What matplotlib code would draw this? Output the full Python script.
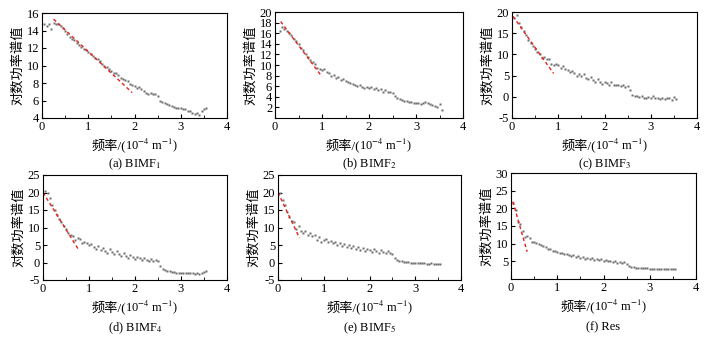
import matplotlib
matplotlib.use("Agg")
import matplotlib.pyplot as plt
import numpy as np
from matplotlib.ticker import MultipleLocator
from matplotlib.offsetbox import TextArea, HPacker, AnnotationBbox

plt.rcParams['font.family'] = ['Liberation Serif', 'Noto Sans CJK SC']
plt.rcParams['mathtext.fontset'] = 'stix'
plt.rcParams['axes.unicode_minus'] = False

# frequency grid (10^-4 m^-1)
freq = [0.05, 0.10, 0.15, 0.20, 0.25, 0.30, 0.35, 0.40, 0.45, 0.50,
        0.55, 0.60, 0.65, 0.70, 0.75, 0.80, 0.85, 0.90, 0.95, 1.00,
        1.05, 1.10, 1.15, 1.20, 1.25, 1.30, 1.35, 1.40, 1.45, 1.50,
        1.55, 1.60, 1.65, 1.70, 1.75, 1.80, 1.85, 1.90, 1.95, 2.00,
        2.05, 2.10, 2.15, 2.20, 2.25, 2.30, 2.35, 2.40, 2.45, 2.50,
        2.55, 2.60, 2.65, 2.70, 2.75, 2.80, 2.85, 2.90, 2.95, 3.00,
        3.05, 3.10, 3.15, 3.20, 3.25, 3.30, 3.35, 3.40, 3.45, 3.50, 3.55]

bimf1 = [14.8, 14.5, 14.7, 14.2, 14.9, 14.8, 14.7, 14.5, 14.3, 14.0,
         13.6, 13.3, 13.0, 12.9, 12.6, 12.3, 12.1, 11.9, 11.8, 11.5,
         11.3, 11.1, 10.9, 10.7, 10.5, 10.2, 10.0, 9.8, 9.6, 9.4,
         9.2, 9.1, 8.9, 8.6, 8.5, 8.4, 8.2, 7.9, 7.8, 7.7,
         7.4, 7.5, 7.3, 7.1, 6.9, 6.8, 6.9, 6.8, 6.7, 6.5,
         6.0, 5.8, 5.7, 5.6, 5.5, 5.4, 5.3, 5.2, 5.1, 5.1,
         5.0, 5.0, 4.8, 4.8, 4.6, 4.5, 4.6, 4.3, 4.8, 5.0, 5.1]

bimf2 = [np.nan, 16.5, 17.2, 16.8, 16.5, 16.0, 15.6, 15.0, 14.5, 14.0,
         13.3, 12.8, 12.0, 11.6, 11.0, 10.6, 10.2, 9.5, 9.3, 9.0,
         9.2, 8.6, 8.5, 8.0, 8.2, 7.6, 7.8, 7.2, 7.4, 7.0,
         6.8, 6.6, 6.4, 6.3, 6.0, 6.2, 5.9, 5.7, 5.9, 5.6,
         5.8, 5.4, 5.6, 5.2, 5.4, 5.0, 5.2, 4.9, 5.0, 4.7,
         4.2, 3.8, 3.5, 3.4, 3.3, 3.2, 3.1, 3.0, 2.9, 2.8,
         2.9, 2.7, 2.8, 3.0, 2.9, 2.6, 2.5, 2.2, 2.0, 2.6, 1.5]

bimf3 = [18.5, 19.2, 17.5, 16.5, 15.5, 14.5, 13.5, 12.8, 12.0, 11.2,
         10.5, 10.0, 9.2, 9.5, 8.8, 9.0, 7.8, 7.5, 7.8, 7.4,
         6.8, 7.2, 6.5, 6.3, 5.8, 6.0, 5.5, 4.8, 5.3, 4.9,
         5.3, 4.5, 4.2, 4.6, 4.0, 3.6, 4.2, 3.5, 3.0, 3.6,
         3.2, 2.8, 3.4, 2.9, 2.7, 2.9, 2.5, 2.7, 2.4, 2.6,
         1.5, 0.5, 0.3, 0.2, 0.0, 0.1, -0.2, -0.3, 0.0, -0.3,
         0.1, -0.2, -0.4, -0.5, -0.3, -0.6, -0.4, -0.2, -0.8, 0.0, -0.6]

bimf4 = [20.5, 19.8, 18.5, 16.5, 15.0, 13.5, 12.5, 11.5, 10.5, 9.5,
         8.5, 8.0, 7.5, 6.5, 7.0, 6.8, 5.5, 6.0, 5.5, 5.0,
         5.3, 4.5, 4.0, 4.6, 3.5, 4.2, 3.3, 2.8, 3.8, 3.0,
         2.5, 3.2, 2.3, 2.0, 2.6, 1.8, 1.4, 2.2, 1.6, 1.0,
         1.7, 1.2, 0.8, 1.2, 0.7, 0.3, 0.9, 0.5, 0.8, 0.5,
         -1.0, -1.8, -2.0, -2.3, -2.5, -2.7, -2.8, -2.9, -3.0, -2.9,
         -3.0, -3.1, -3.0, -3.1, -3.0, -3.2, -3.1, -3.2, -3.0, -2.6, -2.3]

bimf5 = [20.0, 18.0, 16.5, 14.5, 13.0, 12.0, 11.5, 9.5, 10.5, 9.0,
         8.5, 9.0, 8.0, 8.3, 7.5, 7.8, 6.5, 7.2, 6.0, 6.5,
         6.8, 5.8, 6.2, 5.5, 5.9, 5.0, 5.6, 4.8, 5.3, 4.5,
         5.0, 4.2, 4.8, 4.0, 4.5, 3.5, 4.2, 3.3, 4.0, 3.6,
         3.0, 3.8, 3.2, 2.8, 3.5, 3.0, 2.6, 3.2, 2.8, 2.4,
         1.2, 0.6, 0.4, 0.3, 0.2, 0.1, 0.1, 0.0, 0.0, -0.1,
         -0.1, -0.2, -0.2, -0.2, -0.3, -0.3, -0.2, -0.3, -0.3, -0.3, -0.3]

res = [21.5, 19.5, 16.0, 15.5, 13.5, 12.0, 12.3, 11.5, 10.5, 10.6,
       10.2, 10.0, 9.6, 9.3, 9.0, 8.6, 8.4, 8.0, 7.8, 7.6,
       7.4, 7.5, 7.0, 7.2, 6.8, 6.6, 6.8, 6.3, 6.5, 6.0,
       6.3, 5.8, 6.0, 5.6, 5.9, 5.4, 5.6, 5.3, 5.6, 5.2,
       5.4, 5.0, 5.2, 4.8, 5.0, 4.6, 4.9, 4.5, 4.8, 4.3,
       3.8, 3.5, 3.3, 3.2, 3.1, 3.1, 3.0, 3.0, 3.0, 2.9,
       2.9, 2.9, 2.8, 2.8, 2.8, 2.8, 2.7, 2.7, 2.7, 2.7, 2.7]

# fitted straight lines (start, end)
fit_x = [[0.25, 1.95], [0.12, 1.00], [0.02, 0.90], [0.00, 0.78], [0.00, 0.47], [0.04, 0.35]]
fit_y = [[15.3, 6.9], [18.2, 7.8], [19.0, 5.5], [20.0, 3.5], [20.0, 7.0], [21.9, 7.7]]

series = [bimf1, bimf2, bimf3, bimf4, bimf5, res]
captions = ['(a) BIMF$_1$', '(b) BIMF$_2$', '(c) BIMF$_3$',
            '(d) BIMF$_4$', '(e) BIMF$_5$', '(f) Res']
ylims = [(4, 16), (0, 20), (-5, 20), (-5, 25), (-5, 25), (0, 30)]
yticks = [[4, 6, 8, 10, 12, 14, 16], list(range(2, 21, 2)), [-5, 0, 5, 10, 15, 20],
          [-5, 0, 5, 10, 15, 20, 25], [-5, 0, 5, 10, 15, 20, 25], [5, 10, 15, 20, 25, 30]]

W, H = 707, 342
# axes boxes in pixels: left, right, top, bottom
boxes = [(42, 227, 13, 118), (275, 463, 12, 118), (512, 697, 12, 118),
         (43, 227, 175, 280), (278, 461, 175, 280), (511, 696, 173, 279)]

fig = plt.figure(figsize=(W / 100, H / 100), dpi=100)

fs = 9
for i in range(6):
    l, r, t, b = boxes[i]
    ax = fig.add_axes([l / W, 1 - b / H, (r - l) / W, (b - t) / H])
    ax.plot(freq, series[i], 's', ms=1.8, color='#6e6e6e', mec='none')
    ax.plot(fit_x[i], fit_y[i], '--', color='#e8201a', lw=1.0, dashes=(2.5, 2))
    ax.set_xlim(0, 4)
    ax.set_ylim(*ylims[i])
    ax.set_xticks([0, 1, 2, 3, 4])
    ax.xaxis.set_minor_locator(MultipleLocator(0.5))
    ax.set_yticks(yticks[i])
    ax.tick_params(which='both', direction='in', labelsize=fs, pad=2)
    ax.tick_params(which='major', length=3)
    ax.tick_params(which='minor', length=2)
    for s in ax.spines.values():
        s.set_linewidth(0.8)
    ax.set_ylabel('对数功率谱值', fontsize=9.5, labelpad=2)

    # x label: Chinese part as plain text, unit part as mathtext
    hbox = HPacker(children=[TextArea('频率/(', textprops=dict(fontsize=9.5)),
                             TextArea('10$^{-4}$ m$^{-1}$)', textprops=dict(fontsize=fs))],
                   align='baseline', pad=0, sep=-1)
    ab = AnnotationBbox(hbox, (0.5, -27 / (b - t)), xycoords='axes fraction',
                        frameon=False, box_alignment=(0.5, 0.5), pad=0)
    ax.add_artist(ab)
    ax.text(0.5, -(46 if i < 3 else 48) / (b - t), captions[i], transform=ax.transAxes,
            ha='center', va='center', fontsize=fs)

fig.savefig('out.png', dpi=100)
